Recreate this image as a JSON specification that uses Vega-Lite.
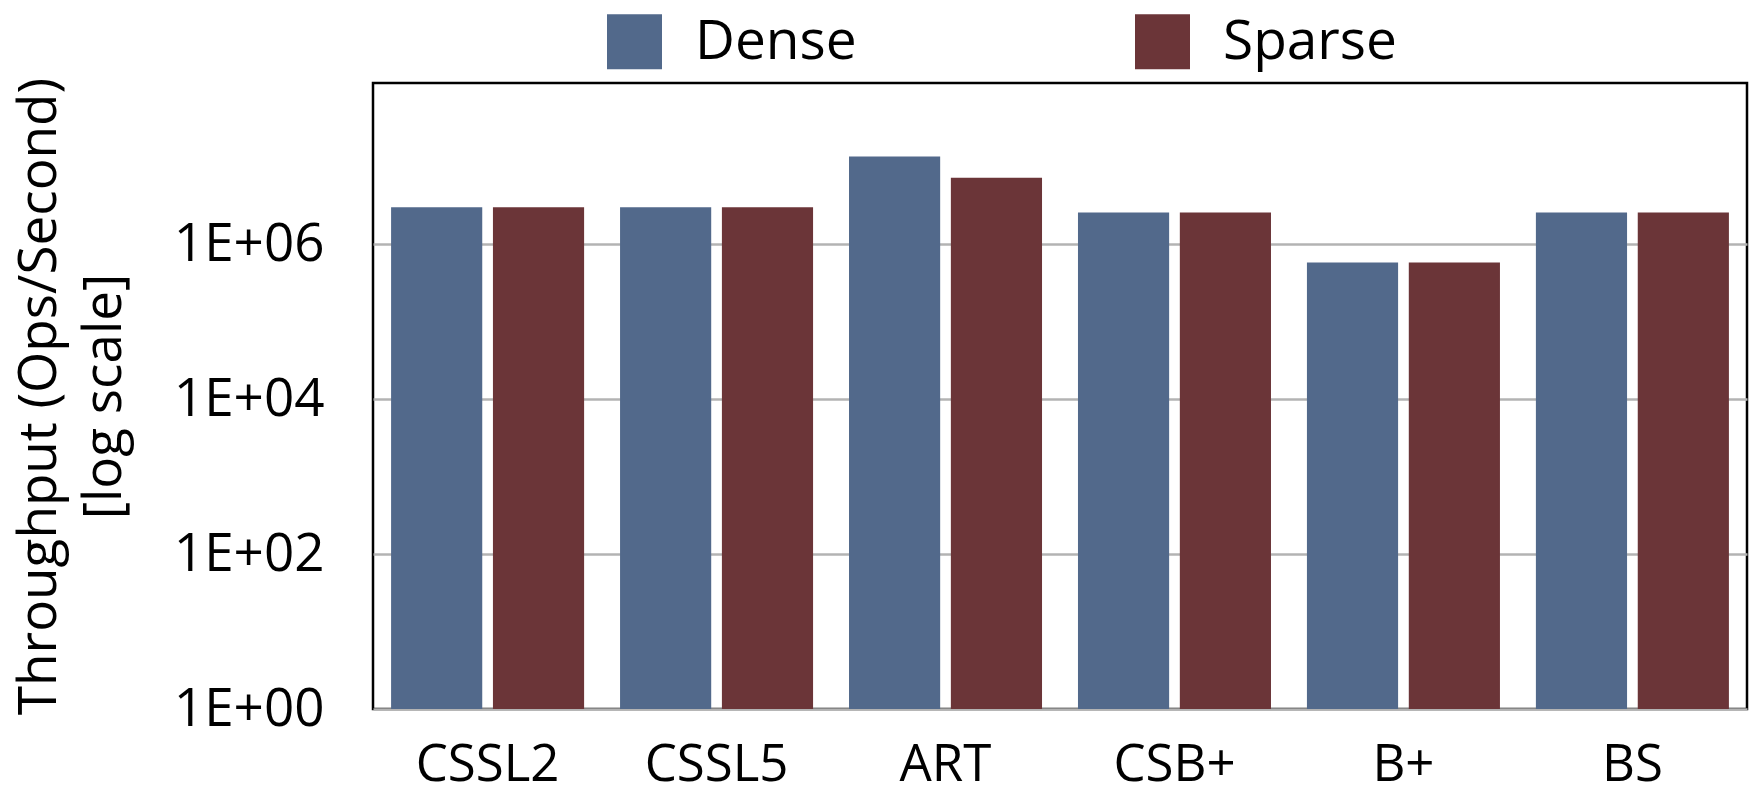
{
  "$schema": "https://vega.github.io/schema/vega-lite/v6.json",
  "autosize": "none",
  "width": 1374,
  "height": 626,
  "padding": {"left": 373, "top": 83, "right": 7, "bottom": 86},
  "background": "white",
  "config": {
    "font": "Open Sans",
    "view": {"stroke": "black", "strokeWidth": 2.5}
  },
  "data": {
    "values": [
      {"structure": "CSSL2", "type": "Dense", "throughput": 3000000},
      {"structure": "CSSL2", "type": "Sparse", "throughput": 3000000},
      {"structure": "CSSL5", "type": "Dense", "throughput": 3000000},
      {"structure": "CSSL5", "type": "Sparse", "throughput": 3000000},
      {"structure": "ART", "type": "Dense", "throughput": 13500000},
      {"structure": "ART", "type": "Sparse", "throughput": 7200000},
      {"structure": "CSB+", "type": "Dense", "throughput": 2550000},
      {"structure": "CSB+", "type": "Sparse", "throughput": 2550000},
      {"structure": "B+", "type": "Dense", "throughput": 580000},
      {"structure": "B+", "type": "Sparse", "throughput": 580000},
      {"structure": "BS", "type": "Dense", "throughput": 2550000},
      {"structure": "BS", "type": "Sparse", "throughput": 2550000}
    ]
  },
  "mark": {"type": "bar", "clip": true},
  "encoding": {
    "x": {
      "field": "structure",
      "type": "nominal",
      "sort": null,
      "scale": {"paddingInner": 0.157, "paddingOuter": 0.079},
      "axis": {
        "title": null,
        "labelAngle": 0,
        "labelFontSize": 51,
        "labelColor": "black",
        "labelPadding": 31,
        "ticks": false,
        "domain": false
      }
    },
    "xOffset": {
      "field": "type",
      "type": "nominal",
      "scale": {"paddingInner": 0.105}
    },
    "y": {
      "field": "throughput",
      "type": "quantitative",
      "stack": null,
      "scale": {"type": "log", "domain": [1, 120000000], "nice": false},
      "axis": {
        "title": ["Throughput (Ops/Second)", "[log scale]"],
        "titleFontSize": 53,
        "titleFontWeight": "normal",
        "titleColor": "black",
        "titleLineHeight": 65,
        "titleAngle": -90,
        "titleAlign": "center",
        "titleBaseline": "alphabetic",
        "titleX": -318,
        "titleY": 313,
        "values": [1, 100, 10000, 1000000],
        "labelExpr": "datum.value == 1 ? '1E+00' : datum.value == 100 ? '1E+02' : datum.value == 10000 ? '1E+04' : '1E+06'",
        "labelFontSize": 53,
        "labelColor": "black",
        "labelPadding": 49,
        "ticks": false,
        "domain": false,
        "grid": true,
        "gridColor": "#b3b3b3",
        "gridWidth": 2.5
      }
    },
    "color": {
      "field": "type",
      "type": "nominal",
      "scale": {"domain": ["Dense", "Sparse"], "range": ["#52698b", "#6b3538"]},
      "legend": {
        "title": null,
        "orient": "none",
        "direction": "horizontal",
        "legendX": 234,
        "legendY": -69,
        "symbolType": "square",
        "symbolSize": 3025,
        "symbolStrokeWidth": 0,
        "symbolOpacity": 1,
        "labelFontSize": 55,
        "labelColor": "black",
        "labelOffset": 33,
        "columnPadding": 278,
        "labelLimit": 400
      }
    }
  }
}
